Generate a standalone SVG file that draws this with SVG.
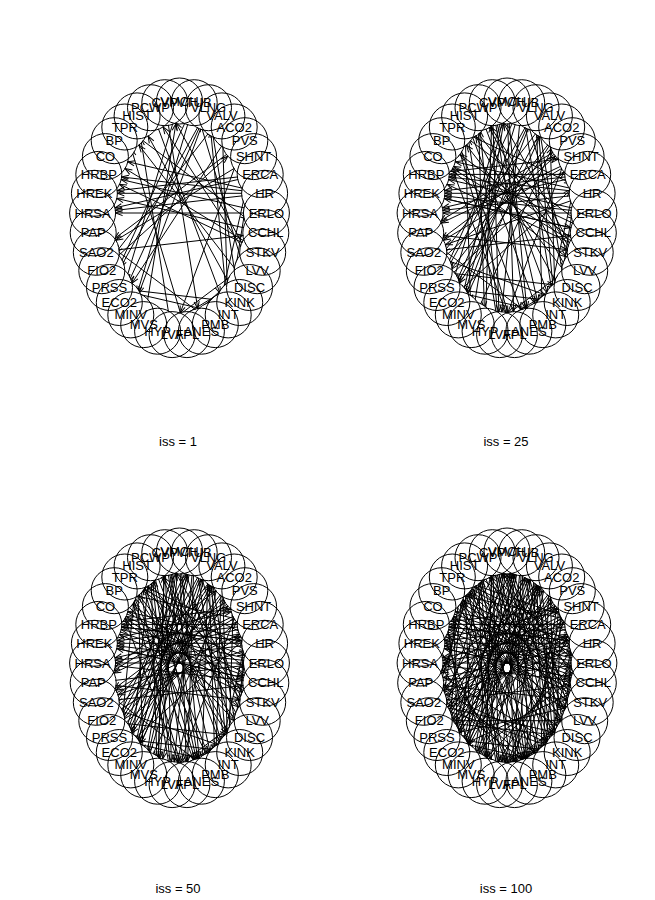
<svg xmlns="http://www.w3.org/2000/svg" xmlns:xlink="http://www.w3.org/1999/xlink" width="655" height="900" viewBox="0 0 655 900">
<style>
.e line{stroke:#000;stroke-width:1;marker-end:url(#ah)}
.cv circle{fill:#fff;stroke:none}
.n circle{fill:none;stroke:#000;stroke-width:1}
.n text{font-family:"Liberation Sans",Arial,sans-serif;font-size:13px;text-anchor:middle;fill:#000}
.t{font-family:"Liberation Sans",Arial,sans-serif;font-size:13px;text-anchor:middle;fill:#000}
</style>
<defs>
<marker id="ah" markerUnits="userSpaceOnUse" orient="auto" refX="23" refY="0" markerWidth="1" markerHeight="1" style="overflow:visible"><path d="M-7,-2.6L0,0L-7,2.6" fill="none" stroke="#000" stroke-width="1"/></marker>
<g id="covers" class="cv">
<circle cx="-14.7" cy="-115.3" r="22.5"/><circle cx="-29" cy="-110.3" r="22.5"/><circle cx="-42.4" cy="-102.1" r="22.5"/><circle cx="-54.7" cy="-91" r="22.5"/><circle cx="-65.3" cy="-77.3" r="22.5"/><circle cx="-74.1" cy="-61.4" r="22.5"/><circle cx="-80.7" cy="-43.6" r="22.5"/><circle cx="-85.1" cy="-24.7" r="22.5"/><circle cx="-86.9" cy="-5" r="22.5"/><circle cx="-86.3" cy="14.9" r="22.5"/><circle cx="-83.2" cy="34.3" r="22.5"/><circle cx="-77.7" cy="52.7" r="22.5"/><circle cx="-70" cy="69.5" r="22.5"/><circle cx="-60.2" cy="84.5" r="22.5"/><circle cx="-48.7" cy="96.9" r="22.5"/><circle cx="-35.8" cy="106.6" r="22.5"/><circle cx="-21.9" cy="113.2" r="22.5"/><circle cx="-7.4" cy="116.6" r="22.5"/><circle cx="7.4" cy="116.6" r="22.5"/><circle cx="21.9" cy="113.2" r="22.5"/><circle cx="35.8" cy="106.6" r="22.5"/><circle cx="48.7" cy="96.9" r="22.5"/><circle cx="60.2" cy="84.5" r="22.5"/><circle cx="70" cy="69.5" r="22.5"/><circle cx="77.7" cy="52.7" r="22.5"/><circle cx="83.2" cy="34.3" r="22.5"/><circle cx="86.3" cy="14.9" r="22.5"/><circle cx="86.9" cy="-5" r="22.5"/><circle cx="85.1" cy="-24.7" r="22.5"/><circle cx="80.7" cy="-43.6" r="22.5"/><circle cx="74.1" cy="-61.4" r="22.5"/><circle cx="65.3" cy="-77.3" r="22.5"/><circle cx="54.7" cy="-91" r="22.5"/><circle cx="42.4" cy="-102.1" r="22.5"/><circle cx="29" cy="-110.3" r="22.5"/><circle cx="14.7" cy="-115.3" r="22.5"/><circle cx="0" cy="-117" r="22.5"/>
</g>
<g id="E0" class="e">
<line x1="-7.4" y1="116.6" x2="-42.4" y2="-102.1"/><line x1="77.7" y1="52.7" x2="-14.7" y2="-115.3"/><line x1="77.7" y1="52.7" x2="-29" y2="-110.3"/><line x1="-21.9" y1="113.2" x2="77.7" y2="52.7"/><line x1="-7.4" y1="116.6" x2="77.7" y2="52.7"/><line x1="-21.9" y1="113.2" x2="83.2" y2="34.3"/><line x1="-7.4" y1="116.6" x2="83.2" y2="34.3"/><line x1="86.9" y1="-5" x2="-80.7" y2="-43.6"/><line x1="85.1" y1="-24.7" x2="-80.7" y2="-43.6"/><line x1="80.7" y1="-43.6" x2="-85.1" y2="-24.7"/><line x1="85.1" y1="-24.7" x2="-85.1" y2="-24.7"/><line x1="80.7" y1="-43.6" x2="-86.9" y2="-5"/><line x1="85.1" y1="-24.7" x2="-86.9" y2="-5"/><line x1="7.4" y1="116.6" x2="-54.7" y2="-91"/><line x1="54.7" y1="-91" x2="-60.2" y2="84.5"/><line x1="29" y1="-110.3" x2="-60.2" y2="84.5"/><line x1="48.7" y1="96.9" x2="-48.7" y2="96.9"/><line x1="29" y1="-110.3" x2="-48.7" y2="96.9"/><line x1="-77.7" y1="52.7" x2="65.3" y2="-77.3"/><line x1="42.4" y1="-102.1" x2="65.3" y2="-77.3"/><line x1="65.3" y1="-77.3" x2="-83.2" y2="34.3"/><line x1="74.1" y1="-61.4" x2="-83.2" y2="34.3"/><line x1="35.8" y1="106.6" x2="-86.3" y2="14.9"/><line x1="48.7" y1="96.9" x2="74.1" y2="-61.4"/><line x1="35.8" y1="106.6" x2="74.1" y2="-61.4"/><line x1="48.7" y1="96.9" x2="-70" y2="69.5"/><line x1="60.2" y1="84.5" x2="-70" y2="69.5"/><line x1="14.7" y1="-115.3" x2="-70" y2="69.5"/><line x1="-35.8" y1="106.6" x2="0" y2="-117"/><line x1="70" y1="69.5" x2="14.7" y2="-115.3"/><line x1="0" y1="-117" x2="14.7" y2="-115.3"/><line x1="48.7" y1="96.9" x2="29" y2="-110.3"/><line x1="60.2" y1="84.5" x2="29" y2="-110.3"/><line x1="14.7" y1="-115.3" x2="29" y2="-110.3"/><line x1="48.7" y1="96.9" x2="42.4" y2="-102.1"/><line x1="29" y1="-110.3" x2="42.4" y2="-102.1"/><line x1="42.4" y1="-102.1" x2="54.7" y2="-91"/><line x1="54.7" y1="-91" x2="86.3" y2="14.9"/><line x1="21.9" y1="113.2" x2="86.3" y2="14.9"/><line x1="-83.2" y1="34.3" x2="86.3" y2="14.9"/><line x1="-54.7" y1="-91" x2="86.3" y2="14.9"/><line x1="86.3" y1="14.9" x2="85.1" y2="-24.7"/><line x1="85.1" y1="-24.7" x2="-74.1" y2="-61.4"/><line x1="83.2" y1="34.3" x2="-74.1" y2="-61.4"/><line x1="-74.1" y1="-61.4" x2="-65.3" y2="-77.3"/><line x1="-54.7" y1="-91" x2="-65.3" y2="-77.3"/>
<line x1="0" y1="-117" x2="-60.2" y2="84.5"/><line x1="14.7" y1="-115.3" x2="-48.7" y2="96.9"/><line x1="29" y1="-110.3" x2="-70" y2="69.5"/><line x1="-14.7" y1="-115.3" x2="21.9" y2="113.2"/><line x1="-29" y1="-110.3" x2="48.7" y2="96.9"/><line x1="86.3" y1="14.9" x2="-85.1" y2="-24.7"/><line x1="86.9" y1="-5" x2="-86.9" y2="-5"/><line x1="83.2" y1="34.3" x2="-80.7" y2="-43.6"/><line x1="60.2" y1="84.5" x2="-42.4" y2="-102.1"/><line x1="70" y1="69.5" x2="-54.7" y2="-91"/><line x1="65.3" y1="-77.3" x2="-7.4" y2="116.6"/><line x1="42.4" y1="-102.1" x2="-77.7" y2="52.7"/>
</g>
<g id="E2" class="e">
<line x1="-29" y1="-110.3" x2="-21.9" y2="113.2"/><line x1="-42.4" y1="-102.1" x2="-35.8" y2="106.6"/><line x1="-14.7" y1="-115.3" x2="-7.4" y2="116.6"/><line x1="0" y1="-117" x2="-48.7" y2="96.9"/><line x1="14.7" y1="-115.3" x2="48.7" y2="96.9"/><line x1="29" y1="-110.3" x2="35.8" y2="106.6"/><line x1="-29" y1="-110.3" x2="70" y2="69.5"/><line x1="-42.4" y1="-102.1" x2="77.7" y2="52.7"/><line x1="-14.7" y1="-115.3" x2="35.8" y2="106.6"/><line x1="0" y1="-117" x2="21.9" y2="113.2"/><line x1="42.4" y1="-102.1" x2="-60.2" y2="84.5"/><line x1="54.7" y1="-91" x2="-70" y2="69.5"/><line x1="65.3" y1="-77.3" x2="-86.3" y2="14.9"/><line x1="74.1" y1="-61.4" x2="-86.3" y2="14.9"/><line x1="80.7" y1="-43.6" x2="-80.7" y2="-43.6"/><line x1="85.1" y1="-24.7" x2="-83.2" y2="34.3"/><line x1="86.9" y1="-5" x2="-85.1" y2="-24.7"/><line x1="86.3" y1="14.9" x2="-74.1" y2="-61.4"/><line x1="83.2" y1="34.3" x2="-65.3" y2="-77.3"/><line x1="-80.7" y1="-43.6" x2="74.1" y2="-61.4"/><line x1="-85.1" y1="-24.7" x2="86.3" y2="14.9"/><line x1="-86.3" y1="14.9" x2="83.2" y2="34.3"/><line x1="-54.7" y1="-91" x2="21.9" y2="113.2"/><line x1="-65.3" y1="-77.3" x2="7.4" y2="116.6"/><line x1="-74.1" y1="-61.4" x2="77.7" y2="52.7"/><line x1="-48.7" y1="96.9" x2="42.4" y2="-102.1"/><line x1="-35.8" y1="106.6" x2="54.7" y2="-91"/><line x1="-21.9" y1="113.2" x2="-14.7" y2="-115.3"/><line x1="-7.4" y1="116.6" x2="-29" y2="-110.3"/><line x1="-60.2" y1="84.5" x2="80.7" y2="-43.6"/><line x1="-70" y1="69.5" x2="74.1" y2="-61.4"/><line x1="-77.7" y1="52.7" x2="70" y2="69.5"/><line x1="-83.2" y1="34.3" x2="60.2" y2="84.5"/><line x1="14.7" y1="-115.3" x2="-7.4" y2="116.6"/><line x1="0" y1="-117" x2="7.4" y2="116.6"/><line x1="-54.7" y1="-91" x2="85.1" y2="-24.7"/><line x1="-42.4" y1="-102.1" x2="35.8" y2="106.6"/>
</g>
<g id="E3" class="e">
<line x1="-29" y1="-110.3" x2="-48.7" y2="96.9"/><line x1="-42.4" y1="-102.1" x2="-60.2" y2="84.5"/><line x1="-14.7" y1="-115.3" x2="-21.9" y2="113.2"/><line x1="0" y1="-117" x2="-21.9" y2="113.2"/><line x1="14.7" y1="-115.3" x2="7.4" y2="116.6"/><line x1="29" y1="-110.3" x2="21.9" y2="113.2"/><line x1="42.4" y1="-102.1" x2="35.8" y2="106.6"/><line x1="54.7" y1="-91" x2="48.7" y2="96.9"/><line x1="65.3" y1="-77.3" x2="60.2" y2="84.5"/><line x1="74.1" y1="-61.4" x2="70" y2="69.5"/><line x1="80.7" y1="-43.6" x2="77.7" y2="52.7"/><line x1="-80.7" y1="-43.6" x2="85.1" y2="-24.7"/><line x1="-85.1" y1="-24.7" x2="74.1" y2="-61.4"/><line x1="-86.9" y1="-5" x2="86.3" y2="14.9"/><line x1="-86.3" y1="14.9" x2="86.9" y2="-5"/><line x1="-83.2" y1="34.3" x2="80.7" y2="-43.6"/><line x1="-74.1" y1="-61.4" x2="86.9" y2="-5"/><line x1="-65.3" y1="-77.3" x2="80.7" y2="-43.6"/><line x1="-54.7" y1="-91" x2="86.9" y2="-5"/><line x1="-29" y1="-110.3" x2="21.9" y2="113.2"/><line x1="-14.7" y1="-115.3" x2="48.7" y2="96.9"/><line x1="0" y1="-117" x2="60.2" y2="84.5"/><line x1="14.7" y1="-115.3" x2="-35.8" y2="106.6"/><line x1="29" y1="-110.3" x2="-21.9" y2="113.2"/><line x1="42.4" y1="-102.1" x2="-7.4" y2="116.6"/><line x1="7.4" y1="116.6" x2="-29" y2="-110.3"/><line x1="21.9" y1="113.2" x2="-42.4" y2="-102.1"/><line x1="35.8" y1="106.6" x2="-54.7" y2="-91"/><line x1="-70" y1="69.5" x2="42.4" y2="-102.1"/><line x1="-60.2" y1="84.5" x2="14.7" y2="-115.3"/><line x1="-48.7" y1="96.9" x2="14.7" y2="-115.3"/><line x1="-35.8" y1="106.6" x2="29" y2="-110.3"/><line x1="-77.7" y1="52.7" x2="80.7" y2="-43.6"/><line x1="-86.3" y1="14.9" x2="54.7" y2="-91"/><line x1="-80.7" y1="-43.6" x2="86.3" y2="14.9"/>
<line x1="-54.7" y1="-91" x2="60.2" y2="84.5"/><line x1="-65.3" y1="-77.3" x2="70" y2="69.5"/><line x1="42.4" y1="-102.1" x2="-48.7" y2="96.9"/>
</g>
<g id="E4" class="e">
<line x1="-14.7" y1="-115.3" x2="-70" y2="69.5"/><line x1="-29" y1="-110.3" x2="-77.7" y2="52.7"/><line x1="-42.4" y1="-102.1" x2="-70" y2="69.5"/><line x1="-54.7" y1="-91" x2="-48.7" y2="96.9"/><line x1="-65.3" y1="-77.3" x2="-35.8" y2="106.6"/><line x1="-74.1" y1="-61.4" x2="-7.4" y2="116.6"/><line x1="-80.7" y1="-43.6" x2="7.4" y2="116.6"/><line x1="-85.1" y1="-24.7" x2="21.9" y2="113.2"/><line x1="-86.9" y1="-5" x2="35.8" y2="106.6"/><line x1="-86.3" y1="14.9" x2="48.7" y2="96.9"/><line x1="-83.2" y1="34.3" x2="70" y2="69.5"/><line x1="-77.7" y1="52.7" x2="77.7" y2="52.7"/><line x1="-70" y1="69.5" x2="83.2" y2="34.3"/><line x1="-60.2" y1="84.5" x2="86.3" y2="14.9"/><line x1="-48.7" y1="96.9" x2="86.9" y2="-5"/><line x1="-35.8" y1="106.6" x2="85.1" y2="-24.7"/><line x1="-21.9" y1="113.2" x2="80.7" y2="-43.6"/><line x1="-7.4" y1="116.6" x2="74.1" y2="-61.4"/><line x1="7.4" y1="116.6" x2="65.3" y2="-77.3"/><line x1="21.9" y1="113.2" x2="54.7" y2="-91"/><line x1="35.8" y1="106.6" x2="54.7" y2="-91"/><line x1="48.7" y1="96.9" x2="0" y2="-117"/><line x1="60.2" y1="84.5" x2="14.7" y2="-115.3"/><line x1="70" y1="69.5" x2="-14.7" y2="-115.3"/><line x1="77.7" y1="52.7" x2="-54.7" y2="-91"/><line x1="83.2" y1="34.3" x2="-54.7" y2="-91"/><line x1="86.3" y1="14.9" x2="-65.3" y2="-77.3"/><line x1="86.9" y1="-5" x2="-65.3" y2="-77.3"/><line x1="85.1" y1="-24.7" x2="-86.3" y2="14.9"/><line x1="80.7" y1="-43.6" x2="-70" y2="69.5"/><line x1="74.1" y1="-61.4" x2="-77.7" y2="52.7"/><line x1="65.3" y1="-77.3" x2="-70" y2="69.5"/><line x1="54.7" y1="-91" x2="-48.7" y2="96.9"/><line x1="42.4" y1="-102.1" x2="-35.8" y2="106.6"/><line x1="29" y1="-110.3" x2="7.4" y2="116.6"/><line x1="14.7" y1="-115.3" x2="21.9" y2="113.2"/><line x1="0" y1="-117" x2="35.8" y2="106.6"/><line x1="-14.7" y1="-115.3" x2="83.2" y2="34.3"/><line x1="-29" y1="-110.3" x2="86.3" y2="14.9"/><line x1="-42.4" y1="-102.1" x2="86.9" y2="-5"/><line x1="-54.7" y1="-91" x2="80.7" y2="-43.6"/><line x1="-80.7" y1="-43.6" x2="77.7" y2="52.7"/><line x1="-85.1" y1="-24.7" x2="70" y2="69.5"/><line x1="-86.9" y1="-5" x2="60.2" y2="84.5"/><line x1="-86.3" y1="14.9" x2="60.2" y2="84.5"/><line x1="-83.2" y1="34.3" x2="0" y2="-117"/><line x1="-77.7" y1="52.7" x2="14.7" y2="-115.3"/><line x1="-70" y1="69.5" x2="29" y2="-110.3"/><line x1="-60.2" y1="84.5" x2="42.4" y2="-102.1"/>
</g>
</defs>
<rect width="655" height="900" fill="#fff"/>

<g id="panel1" transform="translate(179.5,218)">
<g id="p1-edges"><use href="#E0"/></g>
<use href="#covers"/>
<g id="p1-nodes">
<g id="p1-CVP" class="n"><circle cx="-14.7" cy="-115.3" r="23"/><text x="-14.7" y="-110.8">CVP</text></g>
<g id="p1-PCWP" class="n"><circle cx="-29" cy="-110.3" r="23"/><text x="-29" y="-105.8">PCWP</text></g>
<g id="p1-HIST" class="n"><circle cx="-42.4" cy="-102.1" r="23"/><text x="-42.4" y="-97.6">HIST</text></g>
<g id="p1-TPR" class="n"><circle cx="-54.7" cy="-91" r="23"/><text x="-54.7" y="-86.5">TPR</text></g>
<g id="p1-BP" class="n"><circle cx="-65.3" cy="-77.3" r="23"/><text x="-65.3" y="-72.8">BP</text></g>
<g id="p1-CO" class="n"><circle cx="-74.1" cy="-61.4" r="23"/><text x="-74.1" y="-56.9">CO</text></g>
<g id="p1-HRBP" class="n"><circle cx="-80.7" cy="-43.6" r="23"/><text x="-80.7" y="-39.1">HRBP</text></g>
<g id="p1-HREK" class="n"><circle cx="-85.1" cy="-24.7" r="23"/><text x="-85.1" y="-20.2">HREK</text></g>
<g id="p1-HRSA" class="n"><circle cx="-86.9" cy="-5" r="23"/><text x="-86.9" y="-0.5">HRSA</text></g>
<g id="p1-PAP" class="n"><circle cx="-86.3" cy="14.9" r="23"/><text x="-86.3" y="19.4">PAP</text></g>
<g id="p1-SAO2" class="n"><circle cx="-83.2" cy="34.3" r="23"/><text x="-83.2" y="38.8">SAO2</text></g>
<g id="p1-FIO2" class="n"><circle cx="-77.7" cy="52.7" r="23"/><text x="-77.7" y="57.2">FIO2</text></g>
<g id="p1-PRSS" class="n"><circle cx="-70" cy="69.5" r="23"/><text x="-70" y="74">PRSS</text></g>
<g id="p1-ECO2" class="n"><circle cx="-60.2" cy="84.5" r="23"/><text x="-60.2" y="89">ECO2</text></g>
<g id="p1-MINV" class="n"><circle cx="-48.7" cy="96.9" r="23"/><text x="-48.7" y="101.4">MINV</text></g>
<g id="p1-MVS" class="n"><circle cx="-35.8" cy="106.6" r="23"/><text x="-35.8" y="111.1">MVS</text></g>
<g id="p1-HYP" class="n"><circle cx="-21.9" cy="113.2" r="23"/><text x="-21.9" y="117.7">HYP</text></g>
<g id="p1-LVF" class="n"><circle cx="-7.4" cy="116.6" r="23"/><text x="-7.4" y="121.1">LVF</text></g>
<g id="p1-APL" class="n"><circle cx="7.4" cy="116.6" r="23"/><text x="7.4" y="121.1">APL</text></g>
<g id="p1-ANES" class="n"><circle cx="21.9" cy="113.2" r="23"/><text x="21.9" y="117.7">ANES</text></g>
<g id="p1-PMB" class="n"><circle cx="35.8" cy="106.6" r="23"/><text x="35.8" y="111.1">PMB</text></g>
<g id="p1-INT" class="n"><circle cx="48.7" cy="96.9" r="23"/><text x="48.7" y="101.4">INT</text></g>
<g id="p1-KINK" class="n"><circle cx="60.2" cy="84.5" r="23"/><text x="60.2" y="89">KINK</text></g>
<g id="p1-DISC" class="n"><circle cx="70" cy="69.5" r="23"/><text x="70" y="74">DISC</text></g>
<g id="p1-LVV" class="n"><circle cx="77.7" cy="52.7" r="23"/><text x="77.7" y="57.2">LVV</text></g>
<g id="p1-STKV" class="n"><circle cx="83.2" cy="34.3" r="23"/><text x="83.2" y="38.8">STKV</text></g>
<g id="p1-CCHL" class="n"><circle cx="86.3" cy="14.9" r="23"/><text x="86.3" y="19.4">CCHL</text></g>
<g id="p1-ERLO" class="n"><circle cx="86.9" cy="-5" r="23"/><text x="86.9" y="-0.5">ERLO</text></g>
<g id="p1-HR" class="n"><circle cx="85.1" cy="-24.7" r="23"/><text x="85.1" y="-20.2">HR</text></g>
<g id="p1-ERCA" class="n"><circle cx="80.7" cy="-43.6" r="23"/><text x="80.7" y="-39.1">ERCA</text></g>
<g id="p1-SHNT" class="n"><circle cx="74.1" cy="-61.4" r="23"/><text x="74.1" y="-56.9">SHNT</text></g>
<g id="p1-PVS" class="n"><circle cx="65.3" cy="-77.3" r="23"/><text x="65.3" y="-72.8">PVS</text></g>
<g id="p1-ACO2" class="n"><circle cx="54.7" cy="-91" r="23"/><text x="54.7" y="-86.5">ACO2</text></g>
<g id="p1-VALV" class="n"><circle cx="42.4" cy="-102.1" r="23"/><text x="42.4" y="-97.6">VALV</text></g>
<g id="p1-VLNG" class="n"><circle cx="29" cy="-110.3" r="23"/><text x="29" y="-105.8">VLNG</text></g>
<g id="p1-VTUB" class="n"><circle cx="14.7" cy="-115.3" r="23"/><text x="14.7" y="-110.8">VTUB</text></g>
<g id="p1-VMCH" class="n"><circle cx="0" cy="-117" r="23"/><text x="0" y="-112.5">VMCH</text></g>
</g>
</g>
<text class="t" x="178" y="445.5">iss = 1</text>

<g id="panel2" transform="translate(507,218)">
<g id="p2-edges"><use href="#E0"/><use href="#E2"/></g>
<use href="#covers"/>
<g id="p2-nodes">
<g id="p2-CVP" class="n"><circle cx="-14.7" cy="-115.3" r="23"/><text x="-14.7" y="-110.8">CVP</text></g>
<g id="p2-PCWP" class="n"><circle cx="-29" cy="-110.3" r="23"/><text x="-29" y="-105.8">PCWP</text></g>
<g id="p2-HIST" class="n"><circle cx="-42.4" cy="-102.1" r="23"/><text x="-42.4" y="-97.6">HIST</text></g>
<g id="p2-TPR" class="n"><circle cx="-54.7" cy="-91" r="23"/><text x="-54.7" y="-86.5">TPR</text></g>
<g id="p2-BP" class="n"><circle cx="-65.3" cy="-77.3" r="23"/><text x="-65.3" y="-72.8">BP</text></g>
<g id="p2-CO" class="n"><circle cx="-74.1" cy="-61.4" r="23"/><text x="-74.1" y="-56.9">CO</text></g>
<g id="p2-HRBP" class="n"><circle cx="-80.7" cy="-43.6" r="23"/><text x="-80.7" y="-39.1">HRBP</text></g>
<g id="p2-HREK" class="n"><circle cx="-85.1" cy="-24.7" r="23"/><text x="-85.1" y="-20.2">HREK</text></g>
<g id="p2-HRSA" class="n"><circle cx="-86.9" cy="-5" r="23"/><text x="-86.9" y="-0.5">HRSA</text></g>
<g id="p2-PAP" class="n"><circle cx="-86.3" cy="14.9" r="23"/><text x="-86.3" y="19.4">PAP</text></g>
<g id="p2-SAO2" class="n"><circle cx="-83.2" cy="34.3" r="23"/><text x="-83.2" y="38.8">SAO2</text></g>
<g id="p2-FIO2" class="n"><circle cx="-77.7" cy="52.7" r="23"/><text x="-77.7" y="57.2">FIO2</text></g>
<g id="p2-PRSS" class="n"><circle cx="-70" cy="69.5" r="23"/><text x="-70" y="74">PRSS</text></g>
<g id="p2-ECO2" class="n"><circle cx="-60.2" cy="84.5" r="23"/><text x="-60.2" y="89">ECO2</text></g>
<g id="p2-MINV" class="n"><circle cx="-48.7" cy="96.9" r="23"/><text x="-48.7" y="101.4">MINV</text></g>
<g id="p2-MVS" class="n"><circle cx="-35.8" cy="106.6" r="23"/><text x="-35.8" y="111.1">MVS</text></g>
<g id="p2-HYP" class="n"><circle cx="-21.9" cy="113.2" r="23"/><text x="-21.9" y="117.7">HYP</text></g>
<g id="p2-LVF" class="n"><circle cx="-7.4" cy="116.6" r="23"/><text x="-7.4" y="121.1">LVF</text></g>
<g id="p2-APL" class="n"><circle cx="7.4" cy="116.6" r="23"/><text x="7.4" y="121.1">APL</text></g>
<g id="p2-ANES" class="n"><circle cx="21.9" cy="113.2" r="23"/><text x="21.9" y="117.7">ANES</text></g>
<g id="p2-PMB" class="n"><circle cx="35.8" cy="106.6" r="23"/><text x="35.8" y="111.1">PMB</text></g>
<g id="p2-INT" class="n"><circle cx="48.7" cy="96.9" r="23"/><text x="48.7" y="101.4">INT</text></g>
<g id="p2-KINK" class="n"><circle cx="60.2" cy="84.5" r="23"/><text x="60.2" y="89">KINK</text></g>
<g id="p2-DISC" class="n"><circle cx="70" cy="69.5" r="23"/><text x="70" y="74">DISC</text></g>
<g id="p2-LVV" class="n"><circle cx="77.7" cy="52.7" r="23"/><text x="77.7" y="57.2">LVV</text></g>
<g id="p2-STKV" class="n"><circle cx="83.2" cy="34.3" r="23"/><text x="83.2" y="38.8">STKV</text></g>
<g id="p2-CCHL" class="n"><circle cx="86.3" cy="14.9" r="23"/><text x="86.3" y="19.4">CCHL</text></g>
<g id="p2-ERLO" class="n"><circle cx="86.9" cy="-5" r="23"/><text x="86.9" y="-0.5">ERLO</text></g>
<g id="p2-HR" class="n"><circle cx="85.1" cy="-24.7" r="23"/><text x="85.1" y="-20.2">HR</text></g>
<g id="p2-ERCA" class="n"><circle cx="80.7" cy="-43.6" r="23"/><text x="80.7" y="-39.1">ERCA</text></g>
<g id="p2-SHNT" class="n"><circle cx="74.1" cy="-61.4" r="23"/><text x="74.1" y="-56.9">SHNT</text></g>
<g id="p2-PVS" class="n"><circle cx="65.3" cy="-77.3" r="23"/><text x="65.3" y="-72.8">PVS</text></g>
<g id="p2-ACO2" class="n"><circle cx="54.7" cy="-91" r="23"/><text x="54.7" y="-86.5">ACO2</text></g>
<g id="p2-VALV" class="n"><circle cx="42.4" cy="-102.1" r="23"/><text x="42.4" y="-97.6">VALV</text></g>
<g id="p2-VLNG" class="n"><circle cx="29" cy="-110.3" r="23"/><text x="29" y="-105.8">VLNG</text></g>
<g id="p2-VTUB" class="n"><circle cx="14.7" cy="-115.3" r="23"/><text x="14.7" y="-110.8">VTUB</text></g>
<g id="p2-VMCH" class="n"><circle cx="0" cy="-117" r="23"/><text x="0" y="-112.5">VMCH</text></g>
</g>
</g>
<text class="t" x="506" y="445.5">iss = 25</text>

<g id="panel3" transform="translate(179.5,668)">
<g id="p3-edges"><use href="#E0"/><use href="#E2"/><use href="#E3"/></g>
<use href="#covers"/>
<g id="p3-nodes">
<g id="p3-CVP" class="n"><circle cx="-14.7" cy="-115.3" r="23"/><text x="-14.7" y="-110.8">CVP</text></g>
<g id="p3-PCWP" class="n"><circle cx="-29" cy="-110.3" r="23"/><text x="-29" y="-105.8">PCWP</text></g>
<g id="p3-HIST" class="n"><circle cx="-42.4" cy="-102.1" r="23"/><text x="-42.4" y="-97.6">HIST</text></g>
<g id="p3-TPR" class="n"><circle cx="-54.7" cy="-91" r="23"/><text x="-54.7" y="-86.5">TPR</text></g>
<g id="p3-BP" class="n"><circle cx="-65.3" cy="-77.3" r="23"/><text x="-65.3" y="-72.8">BP</text></g>
<g id="p3-CO" class="n"><circle cx="-74.1" cy="-61.4" r="23"/><text x="-74.1" y="-56.9">CO</text></g>
<g id="p3-HRBP" class="n"><circle cx="-80.7" cy="-43.6" r="23"/><text x="-80.7" y="-39.1">HRBP</text></g>
<g id="p3-HREK" class="n"><circle cx="-85.1" cy="-24.7" r="23"/><text x="-85.1" y="-20.2">HREK</text></g>
<g id="p3-HRSA" class="n"><circle cx="-86.9" cy="-5" r="23"/><text x="-86.9" y="-0.5">HRSA</text></g>
<g id="p3-PAP" class="n"><circle cx="-86.3" cy="14.9" r="23"/><text x="-86.3" y="19.4">PAP</text></g>
<g id="p3-SAO2" class="n"><circle cx="-83.2" cy="34.3" r="23"/><text x="-83.2" y="38.8">SAO2</text></g>
<g id="p3-FIO2" class="n"><circle cx="-77.7" cy="52.7" r="23"/><text x="-77.7" y="57.2">FIO2</text></g>
<g id="p3-PRSS" class="n"><circle cx="-70" cy="69.5" r="23"/><text x="-70" y="74">PRSS</text></g>
<g id="p3-ECO2" class="n"><circle cx="-60.2" cy="84.5" r="23"/><text x="-60.2" y="89">ECO2</text></g>
<g id="p3-MINV" class="n"><circle cx="-48.7" cy="96.9" r="23"/><text x="-48.7" y="101.4">MINV</text></g>
<g id="p3-MVS" class="n"><circle cx="-35.8" cy="106.6" r="23"/><text x="-35.8" y="111.1">MVS</text></g>
<g id="p3-HYP" class="n"><circle cx="-21.9" cy="113.2" r="23"/><text x="-21.9" y="117.7">HYP</text></g>
<g id="p3-LVF" class="n"><circle cx="-7.4" cy="116.6" r="23"/><text x="-7.4" y="121.1">LVF</text></g>
<g id="p3-APL" class="n"><circle cx="7.4" cy="116.6" r="23"/><text x="7.4" y="121.1">APL</text></g>
<g id="p3-ANES" class="n"><circle cx="21.9" cy="113.2" r="23"/><text x="21.9" y="117.7">ANES</text></g>
<g id="p3-PMB" class="n"><circle cx="35.8" cy="106.6" r="23"/><text x="35.8" y="111.1">PMB</text></g>
<g id="p3-INT" class="n"><circle cx="48.7" cy="96.9" r="23"/><text x="48.7" y="101.4">INT</text></g>
<g id="p3-KINK" class="n"><circle cx="60.2" cy="84.5" r="23"/><text x="60.2" y="89">KINK</text></g>
<g id="p3-DISC" class="n"><circle cx="70" cy="69.5" r="23"/><text x="70" y="74">DISC</text></g>
<g id="p3-LVV" class="n"><circle cx="77.7" cy="52.7" r="23"/><text x="77.7" y="57.2">LVV</text></g>
<g id="p3-STKV" class="n"><circle cx="83.2" cy="34.3" r="23"/><text x="83.2" y="38.8">STKV</text></g>
<g id="p3-CCHL" class="n"><circle cx="86.3" cy="14.9" r="23"/><text x="86.3" y="19.4">CCHL</text></g>
<g id="p3-ERLO" class="n"><circle cx="86.9" cy="-5" r="23"/><text x="86.9" y="-0.5">ERLO</text></g>
<g id="p3-HR" class="n"><circle cx="85.1" cy="-24.7" r="23"/><text x="85.1" y="-20.2">HR</text></g>
<g id="p3-ERCA" class="n"><circle cx="80.7" cy="-43.6" r="23"/><text x="80.7" y="-39.1">ERCA</text></g>
<g id="p3-SHNT" class="n"><circle cx="74.1" cy="-61.4" r="23"/><text x="74.1" y="-56.9">SHNT</text></g>
<g id="p3-PVS" class="n"><circle cx="65.3" cy="-77.3" r="23"/><text x="65.3" y="-72.8">PVS</text></g>
<g id="p3-ACO2" class="n"><circle cx="54.7" cy="-91" r="23"/><text x="54.7" y="-86.5">ACO2</text></g>
<g id="p3-VALV" class="n"><circle cx="42.4" cy="-102.1" r="23"/><text x="42.4" y="-97.6">VALV</text></g>
<g id="p3-VLNG" class="n"><circle cx="29" cy="-110.3" r="23"/><text x="29" y="-105.8">VLNG</text></g>
<g id="p3-VTUB" class="n"><circle cx="14.7" cy="-115.3" r="23"/><text x="14.7" y="-110.8">VTUB</text></g>
<g id="p3-VMCH" class="n"><circle cx="0" cy="-117" r="23"/><text x="0" y="-112.5">VMCH</text></g>
</g>
</g>
<text class="t" x="178" y="893">iss = 50</text>

<g id="panel4" transform="translate(507,668)">
<g id="p4-edges"><use href="#E0"/><use href="#E2"/><use href="#E3"/><use href="#E4"/></g>
<use href="#covers"/>
<g id="p4-nodes">
<g id="p4-CVP" class="n"><circle cx="-14.7" cy="-115.3" r="23"/><text x="-14.7" y="-110.8">CVP</text></g>
<g id="p4-PCWP" class="n"><circle cx="-29" cy="-110.3" r="23"/><text x="-29" y="-105.8">PCWP</text></g>
<g id="p4-HIST" class="n"><circle cx="-42.4" cy="-102.1" r="23"/><text x="-42.4" y="-97.6">HIST</text></g>
<g id="p4-TPR" class="n"><circle cx="-54.7" cy="-91" r="23"/><text x="-54.7" y="-86.5">TPR</text></g>
<g id="p4-BP" class="n"><circle cx="-65.3" cy="-77.3" r="23"/><text x="-65.3" y="-72.8">BP</text></g>
<g id="p4-CO" class="n"><circle cx="-74.1" cy="-61.4" r="23"/><text x="-74.1" y="-56.9">CO</text></g>
<g id="p4-HRBP" class="n"><circle cx="-80.7" cy="-43.6" r="23"/><text x="-80.7" y="-39.1">HRBP</text></g>
<g id="p4-HREK" class="n"><circle cx="-85.1" cy="-24.7" r="23"/><text x="-85.1" y="-20.2">HREK</text></g>
<g id="p4-HRSA" class="n"><circle cx="-86.9" cy="-5" r="23"/><text x="-86.9" y="-0.5">HRSA</text></g>
<g id="p4-PAP" class="n"><circle cx="-86.3" cy="14.9" r="23"/><text x="-86.3" y="19.4">PAP</text></g>
<g id="p4-SAO2" class="n"><circle cx="-83.2" cy="34.3" r="23"/><text x="-83.2" y="38.8">SAO2</text></g>
<g id="p4-FIO2" class="n"><circle cx="-77.7" cy="52.7" r="23"/><text x="-77.7" y="57.2">FIO2</text></g>
<g id="p4-PRSS" class="n"><circle cx="-70" cy="69.5" r="23"/><text x="-70" y="74">PRSS</text></g>
<g id="p4-ECO2" class="n"><circle cx="-60.2" cy="84.5" r="23"/><text x="-60.2" y="89">ECO2</text></g>
<g id="p4-MINV" class="n"><circle cx="-48.7" cy="96.9" r="23"/><text x="-48.7" y="101.4">MINV</text></g>
<g id="p4-MVS" class="n"><circle cx="-35.8" cy="106.6" r="23"/><text x="-35.8" y="111.1">MVS</text></g>
<g id="p4-HYP" class="n"><circle cx="-21.9" cy="113.2" r="23"/><text x="-21.9" y="117.7">HYP</text></g>
<g id="p4-LVF" class="n"><circle cx="-7.4" cy="116.6" r="23"/><text x="-7.4" y="121.1">LVF</text></g>
<g id="p4-APL" class="n"><circle cx="7.4" cy="116.6" r="23"/><text x="7.4" y="121.1">APL</text></g>
<g id="p4-ANES" class="n"><circle cx="21.9" cy="113.2" r="23"/><text x="21.9" y="117.7">ANES</text></g>
<g id="p4-PMB" class="n"><circle cx="35.8" cy="106.6" r="23"/><text x="35.8" y="111.1">PMB</text></g>
<g id="p4-INT" class="n"><circle cx="48.7" cy="96.9" r="23"/><text x="48.7" y="101.4">INT</text></g>
<g id="p4-KINK" class="n"><circle cx="60.2" cy="84.5" r="23"/><text x="60.2" y="89">KINK</text></g>
<g id="p4-DISC" class="n"><circle cx="70" cy="69.5" r="23"/><text x="70" y="74">DISC</text></g>
<g id="p4-LVV" class="n"><circle cx="77.7" cy="52.7" r="23"/><text x="77.7" y="57.2">LVV</text></g>
<g id="p4-STKV" class="n"><circle cx="83.2" cy="34.3" r="23"/><text x="83.2" y="38.8">STKV</text></g>
<g id="p4-CCHL" class="n"><circle cx="86.3" cy="14.9" r="23"/><text x="86.3" y="19.4">CCHL</text></g>
<g id="p4-ERLO" class="n"><circle cx="86.9" cy="-5" r="23"/><text x="86.9" y="-0.5">ERLO</text></g>
<g id="p4-HR" class="n"><circle cx="85.1" cy="-24.7" r="23"/><text x="85.1" y="-20.2">HR</text></g>
<g id="p4-ERCA" class="n"><circle cx="80.7" cy="-43.6" r="23"/><text x="80.7" y="-39.1">ERCA</text></g>
<g id="p4-SHNT" class="n"><circle cx="74.1" cy="-61.4" r="23"/><text x="74.1" y="-56.9">SHNT</text></g>
<g id="p4-PVS" class="n"><circle cx="65.3" cy="-77.3" r="23"/><text x="65.3" y="-72.8">PVS</text></g>
<g id="p4-ACO2" class="n"><circle cx="54.7" cy="-91" r="23"/><text x="54.7" y="-86.5">ACO2</text></g>
<g id="p4-VALV" class="n"><circle cx="42.4" cy="-102.1" r="23"/><text x="42.4" y="-97.6">VALV</text></g>
<g id="p4-VLNG" class="n"><circle cx="29" cy="-110.3" r="23"/><text x="29" y="-105.8">VLNG</text></g>
<g id="p4-VTUB" class="n"><circle cx="14.7" cy="-115.3" r="23"/><text x="14.7" y="-110.8">VTUB</text></g>
<g id="p4-VMCH" class="n"><circle cx="0" cy="-117" r="23"/><text x="0" y="-112.5">VMCH</text></g>
</g>
</g>
<text class="t" x="506" y="893">iss = 100</text>
</svg>
